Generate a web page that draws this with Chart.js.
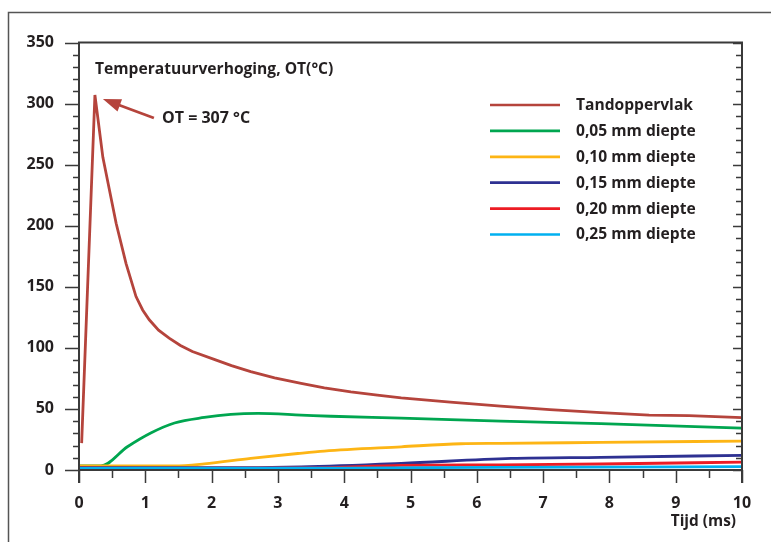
<!DOCTYPE html>
<html><head><meta charset="utf-8">
<script src="https://cdn.jsdelivr.net/npm/chart.js@4.4.1/dist/chart.umd.min.js"></script>
<style>html,body{margin:0;padding:0;background:#fff;overflow:hidden}#wrap{position:relative;width:771px;height:542px}</style>
</head><body><div id="wrap"><canvas id="c" width="771" height="542"></canvas></div>
<script>
// ---- data ----
const seriesLabels = ['Tandoppervlak', '0,05 mm diepte', '0,10 mm diepte', '0,15 mm diepte', '0,20 mm diepte', '0,25 mm diepte'];
const seriesColors = ['#b5443c', '#00a650', '#fdb515', '#2e3192', '#ed1c24', '#00b0f0'];

const surfaceT = [0.04, 0.24, 0.36, 0.46, 0.56, 0.71, 0.86, 0.96, 1.06, 1.2, 1.36, 1.53, 1.71, 2.07, 2.3, 2.59, 2.95, 3.35, 3.7, 4.1, 4.5, 4.86, 5.6, 6.36, 7.1, 7.87, 8.6, 9.2, 10];
const surfaceV = [22, 307, 256, 229, 202, 169, 142, 131, 123, 114.5, 108, 102, 97, 90, 85.5, 80.5, 75.5, 71, 67.3, 64, 61.3, 59, 55.5, 52.3, 49.5, 47, 45, 44.5, 42.8];

const d05T = [0, 0.33, 0.73, 1.09, 1.44, 1.89, 2.29, 2.7, 3.35, 3.8, 4.86, 6.36, 7.87, 10];
const d05V = [3.3, 3.3, 19, 30.5, 38.5, 43, 45.5, 46.3, 45, 44, 42.5, 40, 37.9, 34.3];

const d10T = [0, 1.44, 1.89, 2.59, 3.3, 3.7, 4.86, 5.76, 6.36, 7.87, 10];
const d10V = [3.3, 3.3, 5, 9.5, 13.5, 15.5, 19, 21.5, 21.8, 22.6, 23.7];

const d15T = [0, 2.5, 3.35, 4.86, 6.52, 7.87, 10];
const d15V = [1.9, 1.9, 2.5, 5.4, 9.5, 10.4, 12];

const d20T = [0, 3.5, 4.86, 6.36, 7.87, 10];
const d20V = [1.5, 1.8, 3.8, 4.2, 4.9, 6.5];

const d25T = [0, 4, 6.36, 10];
const d25V = [1.4, 1.6, 2.2, 2.7];

const xTicks = [0, 1, 2, 3, 4, 5, 6, 7, 8, 9, 10];
const yTicks = [0, 50, 100, 150, 200, 250, 300, 350];

const peakT = 0.24, peakV = 307;
const titleText = 'Temperatuurverhoging, OT(°C)';
const peakText = 'OT = 307 °C';
const xTitle = 'Tijd (ms)';

const seriesT = [surfaceT, d05T, d10T, d15T, d20T, d25T];
const seriesV = [surfaceV, d05V, d10V, d15V, d20V, d25V];

const TXT = '#231f20';
const AX = '#3a3a3a';
const FONT = '"Open Sans", "Noto Sans", sans-serif';

const datasets = seriesLabels.map((lab, i) => ({
  label: lab,
  data: seriesT[i].map((t, k) => ({ x: t, y: seriesV[i][k] })),
  borderColor: seriesColors[i],
  backgroundColor: seriesColors[i],
  borderWidth: 2.8,
  pointRadius: 0,
  tension: 0,
  cubicInterpolationMode: i === 0 ? 'default' : 'monotone',
  fill: false,
  order: 5 - i
}));
datasets.forEach((d, i) => { if (i > 0) d.tension = 0.4; });

const decor = {
  id: 'decor',
  afterDraw(chart) {
    const ctx = chart.ctx;
    const xs = chart.scales.x, ys = chart.scales.y;
    const L = xs.getPixelForValue(0), R = xs.getPixelForValue(10);
    const T = ys.getPixelForValue(350), B = ys.getPixelForValue(0);
    ctx.save();
    // outer frame
    ctx.strokeStyle = '#555';
    ctx.lineWidth = 1.5;
    ctx.beginPath();
    ctx.moveTo(8.5, 542); ctx.lineTo(8.5, 12.5); ctx.lineTo(771, 12.5);
    ctx.stroke();
    // plot box
    ctx.strokeStyle = AX;
    ctx.lineWidth = 2;
    ctx.beginPath();
    ctx.moveTo(L, B + 13); ctx.lineTo(L, T); ctx.lineTo(R, T); ctx.lineTo(R, B + 13);
    ctx.moveTo(L, B); ctx.lineTo(R, B);
    ctx.stroke();
    // y ticks
    ctx.lineWidth = 1.5;
    ctx.beginPath();
    for (let v = 0; v <= 350; v += 10) {
      const y = Math.round(ys.getPixelForValue(v)) + 0.5;
      const major = v % 50 === 0;
      ctx.moveTo(L - (major ? 14 : 6), y); ctx.lineTo(L, y);
      ctx.moveTo(R, y); ctx.lineTo(R - (major ? 9 : 6), y);
    }
    // x ticks
    for (let t = 0; t <= 10; t += 0.5) {
      const x = Math.round(xs.getPixelForValue(t)) + 0.5;
      const major = Number.isInteger(t);
      ctx.moveTo(x, B); ctx.lineTo(x, B + (major ? 13 : 8));
    }
    ctx.stroke();

    // title
    ctx.fillStyle = TXT;
    ctx.textBaseline = 'middle';
    ctx.textAlign = 'left';
    ctx.font = 'bold 15.6px ' + FONT;
    ctx.fillText(titleText, 95, 70);

    // annotation arrow
    const px = xs.getPixelForValue(peakT), py = ys.getPixelForValue(peakV);
    const tipX = px + 8, tipY = py + 4;
    const tailX = px + 59, tailY = py + 23;
    const ang = Math.atan2(tailY - tipY, tailX - tipX);
    ctx.strokeStyle = seriesColors[0];
    ctx.fillStyle = seriesColors[0];
    ctx.lineWidth = 2.8;
    ctx.beginPath();
    ctx.moveTo(tailX, tailY);
    ctx.lineTo(tipX + Math.cos(ang) * 12, tipY + Math.sin(ang) * 12);
    ctx.stroke();
    const hl = 18, hw = 6.5;
    const bx = tipX + Math.cos(ang) * hl, by = tipY + Math.sin(ang) * hl;
    ctx.beginPath();
    ctx.moveTo(tipX, tipY);
    ctx.lineTo(bx - Math.sin(ang) * hw, by + Math.cos(ang) * hw);
    ctx.lineTo(bx + Math.sin(ang) * hw, by - Math.cos(ang) * hw);
    ctx.closePath();
    ctx.fill();
    ctx.fillStyle = TXT;
    ctx.font = 'bold 16px ' + FONT;
    ctx.fillText(peakText, 162, tailY + 0.5);

    // legend
    ctx.font = 'bold 15.6px ' + FONT;
    seriesLabels.forEach((lab, i) => {
      const y = 105 + i * 25.9;
      ctx.strokeStyle = seriesColors[i];
      ctx.lineWidth = 2.7;
      ctx.beginPath();
      ctx.moveTo(490, y); ctx.lineTo(560, y);
      ctx.stroke();
      ctx.fillStyle = TXT;
      ctx.fillText(lab, 576, y + 0.5);
    });

    // x axis title
    ctx.textAlign = 'right';
    ctx.font = 'bold 15.4px ' + FONT;
    ctx.fillText(xTitle, 736, 521.5);
    ctx.restore();
  }
};

new Chart(document.getElementById('c'), {
  type: 'line',
  data: { datasets },
  options: {
    responsive: false,
    devicePixelRatio: 1,
    animation: false,
    layout: { padding: { left: 0, top: 42.5, right: 29, bottom: 0 } },
    plugins: { legend: { display: false }, tooltip: { enabled: false }, title: { display: false } },
    scales: {
      x: {
        type: 'linear', min: 0, max: 10,
        afterBuildTicks: s => { s.ticks = xTicks.map(v => ({ value: v })); },
        afterFit: s => { s.height = 72; },
        grid: { display: false }, border: { display: false },
        ticks: { color: TXT, font: { family: FONT, size: 16, weight: 'bold' }, padding: 16, maxRotation: 0, autoSkip: false }
      },
      y: {
        type: 'linear', min: 0, max: 350,
        afterBuildTicks: s => { s.ticks = yTicks.map(v => ({ value: v })); },
        afterFit: s => { s.width = 79; },
        grid: { display: false }, border: { display: false },
        ticks: { color: TXT, font: { family: FONT, size: 16, weight: 'bold' }, padding: 17, autoSkip: false }
      }
    }
  },
  plugins: [decor]
});
</script>
</body></html>
